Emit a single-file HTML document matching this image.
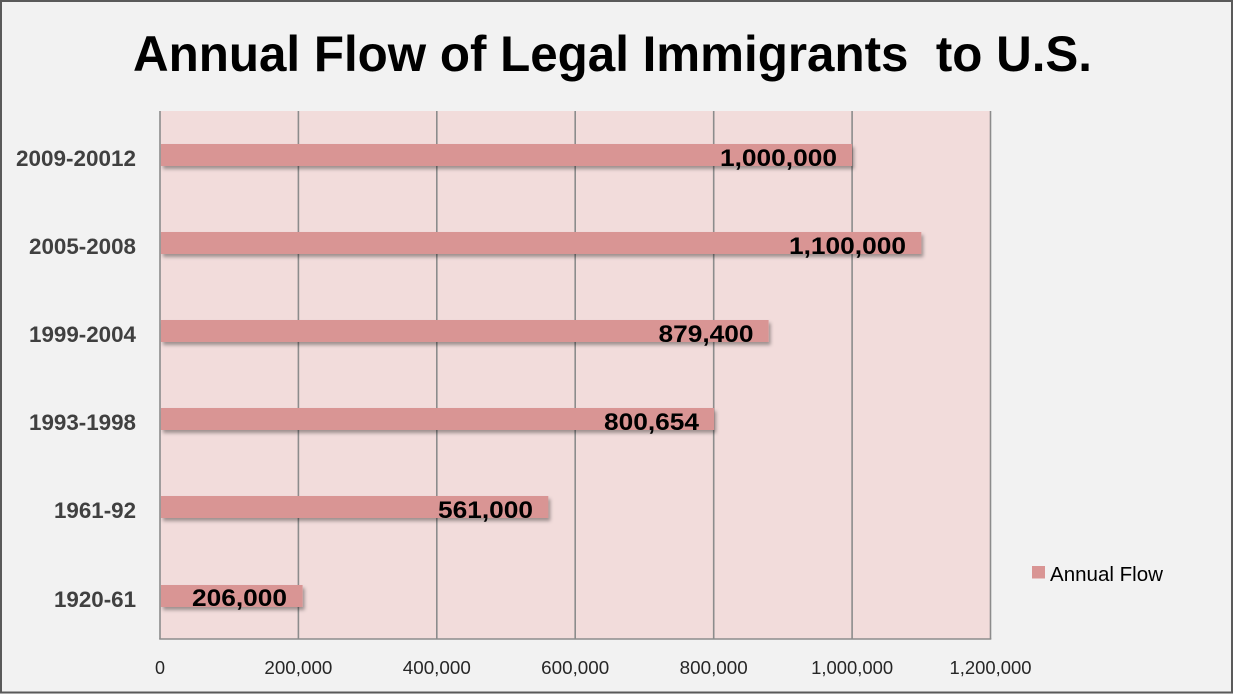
<!DOCTYPE html>
<html>
<head>
<meta charset="utf-8">
<style>
  html,body{margin:0;padding:0;background:#f2f2f2;}
  svg{display:block;}
</style>
</head>
<body>
<svg width="1233" height="694" viewBox="0 0 1233 694" xmlns="http://www.w3.org/2000/svg">
  <defs>
    <filter id="sh" x="-5%" y="-50%" width="110%" height="200%">
      <feDropShadow dx="2" dy="3" stdDeviation="1.8" flood-color="#000" flood-opacity="0.35"/>
    </filter>
  </defs>
  <rect x="0" y="0" width="1233" height="694" fill="#f2f2f2"/>
  <rect x="1" y="1" width="1231" height="691.5" fill="none" stroke="#5a5a5a" stroke-width="2"/>

  <!-- Title -->
  <text x="612.5" y="71" text-anchor="middle" font-family="Liberation Sans, sans-serif" font-weight="bold" font-size="50" fill="#000" textLength="959" lengthAdjust="spacingAndGlyphs">Annual Flow of Legal Immigrants&#160; to U.S.</text>

  <!-- Plot area -->
  <rect x="160" y="111" width="830.5" height="528" fill="#f2dcdb"/>

  <!-- Gridlines -->
  <g stroke="#8c8c8c" stroke-width="1.6">
    <line x1="160" y1="111" x2="160" y2="639"/>
    <line x1="298.4" y1="111" x2="298.4" y2="639"/>
    <line x1="436.8" y1="111" x2="436.8" y2="639"/>
    <line x1="575.2" y1="111" x2="575.2" y2="639"/>
    <line x1="713.7" y1="111" x2="713.7" y2="639"/>
    <line x1="852.1" y1="111" x2="852.1" y2="639"/>
    <line x1="990.5" y1="111" x2="990.5" y2="639"/>
    <line x1="159.2" y1="639" x2="991.3" y2="639"/>
  </g>

  <!-- Bars -->
  <g fill="#d99594" filter="url(#sh)">
    <rect x="161" y="144" width="691.1" height="22"/>
    <rect x="161" y="232" width="760.3" height="22"/>
    <rect x="161" y="320" width="607.6" height="22"/>
    <rect x="161" y="408" width="553.1" height="22"/>
    <rect x="161" y="496" width="387.3" height="22"/>
    <rect x="161" y="585" width="141.6" height="22"/>
  </g>

  <!-- Value labels -->
  <g font-family="Liberation Sans, sans-serif" font-weight="bold" font-size="24" fill="#000" text-anchor="end">
    <text x="837" y="166" textLength="117" lengthAdjust="spacingAndGlyphs">1,000,000</text>
    <text x="906" y="254" textLength="117" lengthAdjust="spacingAndGlyphs">1,100,000</text>
    <text x="753.5" y="342" textLength="95" lengthAdjust="spacingAndGlyphs">879,400</text>
    <text x="699" y="430" textLength="95" lengthAdjust="spacingAndGlyphs">800,654</text>
    <text x="533" y="518" textLength="95" lengthAdjust="spacingAndGlyphs">561,000</text>
    <text x="287" y="606" textLength="95" lengthAdjust="spacingAndGlyphs">206,000</text>
  </g>

  <!-- Category labels -->
  <g font-family="Liberation Sans, sans-serif" font-weight="bold" font-size="22" fill="#404040" text-anchor="end">
    <text x="136" y="166" textLength="120" lengthAdjust="spacingAndGlyphs">2009-20012</text>
    <text x="136" y="254" textLength="107" lengthAdjust="spacingAndGlyphs">2005-2008</text>
    <text x="136" y="342" textLength="107" lengthAdjust="spacingAndGlyphs">1999-2004</text>
    <text x="136" y="430" textLength="107" lengthAdjust="spacingAndGlyphs">1993-1998</text>
    <text x="136" y="518" textLength="82" lengthAdjust="spacingAndGlyphs">1961-92</text>
    <text x="136" y="607" textLength="82" lengthAdjust="spacingAndGlyphs">1920-61</text>
  </g>

  <!-- X tick labels -->
  <g font-family="Liberation Sans, sans-serif" font-size="18" fill="#262626" text-anchor="middle">
    <text x="160" y="674">0</text>
    <text x="298.4" y="674" textLength="68" lengthAdjust="spacingAndGlyphs">200,000</text>
    <text x="436.8" y="674" textLength="68" lengthAdjust="spacingAndGlyphs">400,000</text>
    <text x="575.2" y="674" textLength="68" lengthAdjust="spacingAndGlyphs">600,000</text>
    <text x="713.7" y="674" textLength="68" lengthAdjust="spacingAndGlyphs">800,000</text>
    <text x="852.1" y="674" textLength="82" lengthAdjust="spacingAndGlyphs">1,000,000</text>
    <text x="990.5" y="674" textLength="82" lengthAdjust="spacingAndGlyphs">1,200,000</text>
  </g>

  <!-- Legend -->
  <rect x="1032" y="566" width="13" height="12.5" fill="#d99594"/>
  <text x="1050" y="581" font-family="Liberation Sans, sans-serif" font-size="20" fill="#000" textLength="113" lengthAdjust="spacingAndGlyphs">Annual Flow</text>
</svg>
</body>
</html>
